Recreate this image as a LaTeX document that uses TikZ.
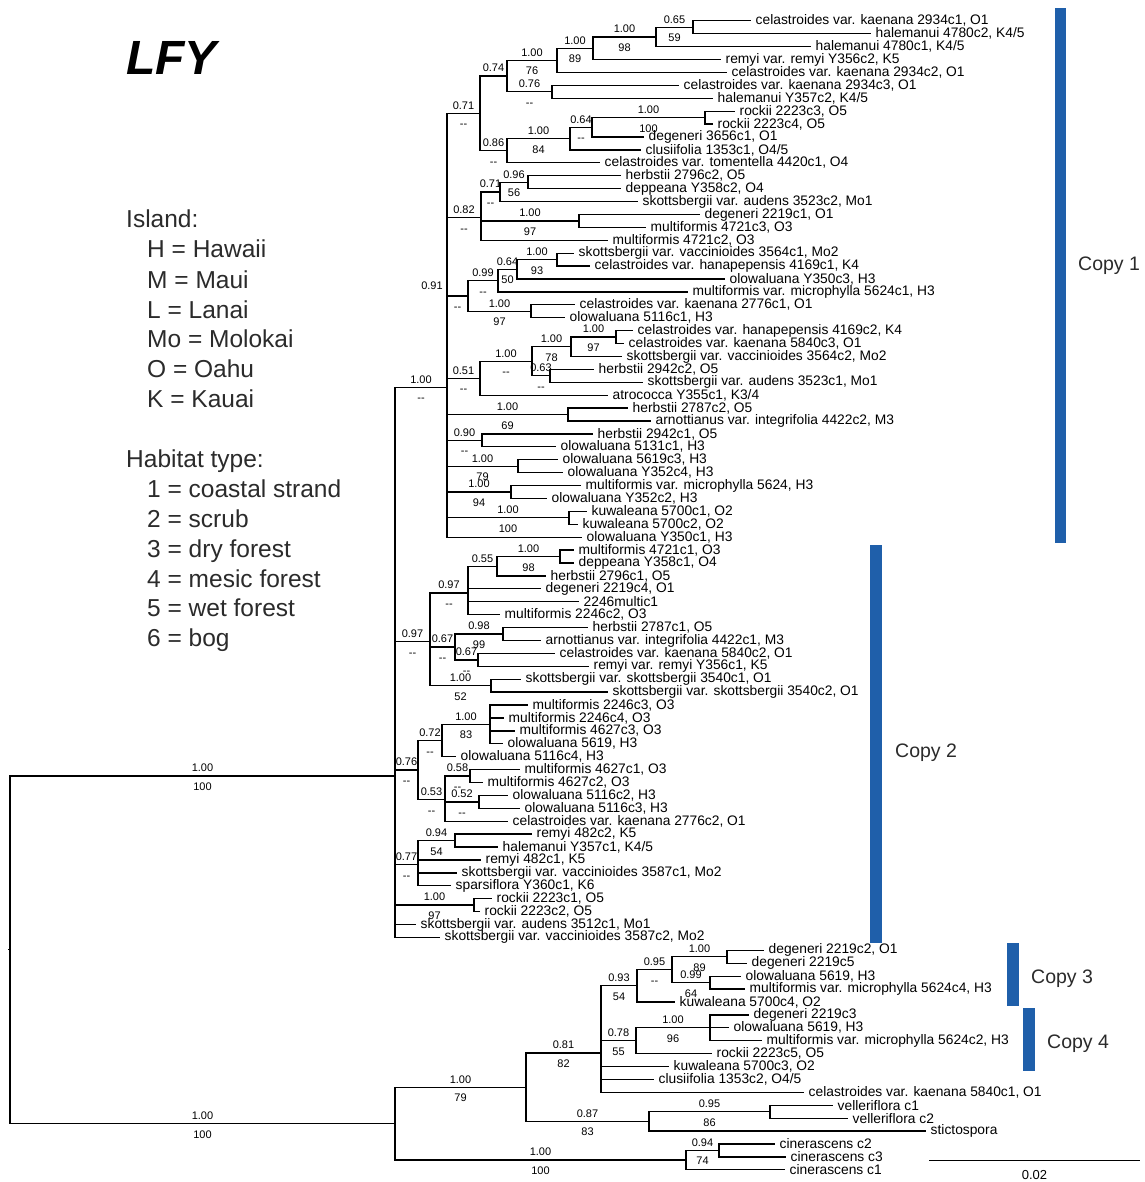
\documentclass[tikz,border=0pt]{standalone}
\usepackage{fontspec}
\setmainfont{Liberation Sans}
\usetikzlibrary{calc}
\definecolor{CopyBlue}{HTML}{1F5FAA}
\definecolor{LegendGrey}{HTML}{2B2B2B}
\newcommand{\nodash}{\mbox{-}\mbox{-}}
\newcommand{\clade}[3]{%
\gdef\ysum{0}\gdef\nkids{0}%
\foreach \kid/\pp/\bs in {#3}{\path let \p1=(\kid) in \pgfextra{\pgfmathsetmacro\tmp{\ysum+\y1}\xdef\ysum{\tmp}\pgfmathsetmacro\tmp{\nkids+1}\xdef\nkids{\tmp}};}%
\pgfmathsetmacro\ymid{\ysum/\nkids}%
\coordinate (#1) at (#2pt,\ymid pt);%
\foreach \kid/\pp/\bs in {#3}{\draw[branch] (#1) |- (\kid) node[pos=.75,above=2.5pt,support]{\pp} node[pos=.75,below=5pt,support]{\bs};}}
\begin{document}
\begin{tikzpicture}[x=1pt,y=-1pt,branch/.style={draw=black,line width=1.3pt},leaf/.style={anchor=west,inner xsep=4.5pt,inner ysep=0pt,font=\fontsize{13.8}{14}\selectfont},support/.style={inner sep=1pt,text height=7.9pt,text depth=0pt,font=\fontsize{11}{11}\selectfont},legend/.style={anchor=base west,inner sep=0pt,text=LegendGrey,font=\fontsize{24.5}{25}\selectfont},copylab/.style={anchor=base west,inner sep=0pt,text=LegendGrey,font=\fontsize{19.5}{20}\selectfont}]
\useasboundingbox (0,0) rectangle (1144,1182);
\fill[white] (0,0) rectangle (1144,1182);
\node[anchor=base west,inner sep=0pt,font=\fontsize{48}{48}\selectfont\bfseries\itshape] (title) at (126,75) {LFY};
\foreach \ty/\txt in {228/{Island:},467/{Habitat type:}}{\node[legend] (head\ty) at (126,\ty) {\txt};}
\foreach \ty/\txt in {258/{H = Hawaii},288/{M = Maui},318/{L = Lanai},347/{Mo = Molokai},377/{O = Oahu},407/{K = Kauai},497/{1 = coastal strand},527/{2 = scrub},557/{3 = dry forest},587/{4 = mesic forest},616/{5 = wet forest},646/{6 = bog}}{\node[legend] (key\ty) at (147,\ty) {\txt};}
\foreach \i/\s/\lab in {1/756/{celastroides var. kaenana 2934c1, O1},2/876/{halemanui 4780c2, K4/5},3/816/{halemanui 4780c1, K4/5},4/726/{remyi var. remyi Y356c2, K5},5/732/{celastroides var. kaenana 2934c2, O1},6/684/{celastroides var. kaenana 2934c3, O1},7/718/{halemanui Y357c2, K4/5},8/740/{rockii 2223c3, O5},9/718/{rockii 2223c4, O5},10/649/{degeneri 3656c1, O1},11/646/{clusiifolia 1353c1, O4/5},12/605/{celastroides var. tomentella 4420c1, O4},13/626/{herbstii 2796c2, O5},14/626/{deppeana Y358c2, O4},15/643/{skottsbergii var. audens 3523c2, Mo1},16/705/{degeneri 2219c1, O1},17/651/{multiformis 4721c3, O3},18/613/{multiformis 4721c2, O3},19/579/{skottsbergii var. vaccinioides 3564c1, Mo2},20/595/{celastroides var. hanapepensis 4169c1, K4},21/730/{olowaluana Y350c3, H3},22/693/{multiformis var. microphylla 5624c1, H3},23/580/{celastroides var. kaenana 2776c1, O1},24/570/{olowaluana 5116c1, H3},25/638/{celastroides var. hanapepensis 4169c2, K4},26/629/{celastroides var. kaenana 5840c3, O1},27/627/{skottsbergii var. vaccinioides 3564c2, Mo2},28/599/{herbstii 2942c2, O5},29/648/{skottsbergii var. audens 3523c1, Mo1},30/613/{atrococca Y355c1, K3/4},31/633/{herbstii 2787c2, O5},32/656/{arnottianus var. integrifolia 4422c2, M3},33/598/{herbstii 2942c1, O5},34/561/{olowaluana 5131c1, H3},35/563/{olowaluana 5619c3, H3},36/568/{olowaluana Y352c4, H3},37/586/{multiformis var. microphylla 5624, H3},38/552/{olowaluana Y352c2, H3},39/592/{kuwaleana 5700c1, O2},40/583/{kuwaleana 5700c2, O2},41/587/{olowaluana Y350c1, H3},42/579/{multiformis 4721c1, O3},43/579/{deppeana Y358c1, O4},44/551/{herbstii 2796c1, O5},45/546/{degeneri 2219c4, O1},46/584/{2246multic1},47/505/{multiformis 2246c2, O3},48/593/{herbstii 2787c1, O5},49/546/{arnottianus var. integrifolia 4422c1, M3},50/560/{celastroides var. kaenana 5840c2, O1},51/594/{remyi var. remyi Y356c1, K5},52/526/{skottsbergii var. skottsbergii 3540c1, O1},53/613/{skottsbergii var. skottsbergii 3540c2, O1},54/533/{multiformis 2246c3, O3},55/509/{multiformis 2246c4, O3},56/520/{multiformis 4627c3, O3},57/508/{olowaluana 5619, H3},58/461/{olowaluana 5116c4, H3},59/525/{multiformis 4627c1, O3},60/488/{multiformis 4627c2, O3},61/513/{olowaluana 5116c2, H3},62/525/{olowaluana 5116c3, H3},63/513/{celastroides var. kaenana 2776c2, O1},64/537/{remyi 482c2, K5},65/503/{halemanui Y357c1, K4/5},66/486/{remyi 482c1, K5},67/462/{skottsbergii var. vaccinioides 3587c1, Mo2},68/456/{sparsiflora Y360c1, K6},69/497/{rockii 2223c1, O5},70/485/{rockii 2223c2, O5},71/421/{skottsbergii var. audens 3512c1, Mo1},72/445/{skottsbergii var. vaccinioides 3587c2, Mo2},73/769/{degeneri 2219c2, O1},74/752/{degeneri 2219c5},75/746/{olowaluana 5619, H3},76/750/{multiformis var. microphylla 5624c4, H3},77/680/{kuwaleana 5700c4, O2},78/754/{degeneri 2219c3},79/734/{olowaluana 5619, H3},80/767/{multiformis var. microphylla 5624c2, H3},81/717/{rockii 2223c5, O5},82/674/{kuwaleana 5700c3, O2},83/659/{clusiifolia 1353c2, O4/5},84/809/{celastroides var. kaenana 5840c1, O1},85/838/{velleriflora c1},86/853/{velleriflora c2},87/931/{stictospora},88/780/{cinerascens c2},89/791/{cinerascens c3},90/790/{cinerascens c1}}{\node[leaf] (l\i) at ({\s-5},{20.8+(\i-1)*12.91}) {\lab};}
\clade{n065}{693}{l1//,l2//}
\clade{n100a}{656}{n065/0.65/59,l3//}
\clade{n100b}{593}{n100a/1.00/98,l4//}
\clade{n100c}{557}{n100b/1.00/89,l5//}
\clade{n076}{552}{l6//,l7//}
\clade{n074}{507}{n100c/1.00/76,n076/0.76/\nodash}
\clade{n100e}{705}{l8//,l9//}
\clade{n064}{592}{n100e/1.00/100,l10//}
\clade{n100d}{570}{n064/0.64/\nodash,l11//}
\clade{n086}{507}{n100d/1.00/84,l12//}
\clade{c071}{480}{n074/0.74/,n086/0.86/\nodash}
\clade{n096}{528}{l13//,l14//}
\clade{n071}{500}{n096/0.96/56,l15//}
\clade{n100f}{579}{l16//,l17//}
\clade{c082}{481}{n071/0.71/\nodash,n100f/1.00/97,l18//}
\clade{n100h}{557}{l19//,l20//}
\clade{n064b}{517}{n100h/1.00/93,l21//}
\clade{n099}{498}{n064b/0.64/50,l22//}
\clade{n100g}{531}{l23//,l24//}
\clade{c091}{468}{n099/0.99/\nodash,n100g/1.00/97}
\clade{n100k}{616}{l25//,l26//}
\clade{n100j}{571}{n100k/1.00/97,l27//}
\clade{n063}{550}{l28//,l29//}
\clade{n100i}{532}{n100j/1.00/78,n063/0.63/\nodash}
\clade{c051}{480}{n100i/1.00/\nodash,l30//}
\clade{n100l}{568}{l31//,l32//}
\clade{c090}{482}{l33//,l34//}
\clade{n100m}{518}{l35//,l36//}
\clade{n100n}{511}{l37//,l38//}
\clade{n100o}{569}{l39//,l40//}
\clade{copy1}{447}{c071/0.71/\nodash,c082/0.82/\nodash,c091//\nodash,c051/0.51/\nodash,n100l/1.00/69,c090/0.90/\nodash,n100m/1.00/79,n100n/1.00/94,n100o/1.00/100,l41//}
\node[support] (pp091) at (432,286) {0.91};
\clade{n100t}{560}{l42//,l43//}
\clade{n055}{497}{n100t/1.00/98,l44//}
\clade{c097b}{468}{n055/0.55/,l45//,l46//,l47//}
\clade{n098}{503}{l48//,l49//}
\clade{n067b}{478}{l50//,l51//}
\clade{c067}{455}{n098/0.98/99,n067b/0.67/\nodash}
\clade{n100s}{491}{l52//,l53//}
\clade{c097}{430}{c097b/0.97/\nodash,c067/0.67/\nodash,n100s/1.00/52}
\clade{n100u}{490}{l54//,l55//,l56//,l57//}
\clade{c072}{442}{n100u/1.00/83,l58//}
\clade{n058}{470}{l59//,l60//}
\clade{n052}{479}{l61//,l62//}
\clade{c053}{445}{n058/0.58/\nodash,n052/0.52/\nodash,l63//}
\clade{c076}{418}{c072/0.72/\nodash,c053/0.53/\nodash}
\clade{n094}{455}{l64//,l65//}
\clade{c077}{418}{n094/0.94/54,l66//,l67//,l68//}
\clade{n100r}{474}{l69//,l70//}
\clade{ingroup}{395}{copy1/1.00/\nodash,c097/0.97/\nodash,c076/0.76/\nodash,c077/0.77/\nodash,n100r/1.00/97,l71//,l72//}
\clade{n100v}{727}{l73//,l74//}
\clade{n099b}{710}{l75//,l76//}
\clade{c095}{672}{n100v/1.00/89,n099b/0.99/64}
\clade{c093}{637}{c095/0.95/\nodash,l77//}
\clade{n100w}{710}{l78//,l79//,l80//}
\clade{c078}{636}{n100w/1.00/96,l81//}
\clade{c081}{601}{c093/0.93/54,c078/0.78/55,l82//,l83//,l84//}
\clade{n095}{770}{l85//,l86//}
\clade{c087}{649}{n095/0.95/86,l87//}
\clade{c100}{526}{c081/0.81/82,c087/0.87/83}
\clade{n094b}{719}{l88//,l89//}
\clade{cine}{686}{n094b/0.94/74,l90//}
\clade{outgroup}{395}{c100/1.00/79,cine/1.00/100}
\clade{root}{10}{ingroup/1.00/100,outgroup/1.00/100}
\draw[branch] (root) -- ++(-2,0);
\fill[CopyBlue] (1055,8) rectangle (1066,543);
\fill[CopyBlue] (870,545) rectangle (882,943);
\fill[CopyBlue] (1007,943) rectangle (1019,1006);
\fill[CopyBlue] (1023,1008) rectangle (1035,1071);
\node[copylab] (copy1lab) at (1078,270) {Copy 1};
\node[copylab] (copy2lab) at (895,757) {Copy 2};
\node[copylab] (copy3lab) at (1031,983) {Copy 3};
\node[copylab] (copy4lab) at (1047,1048) {Copy 4};
\coordinate (bar0) at (929,1160);
\coordinate (bar1) at (1140,1160);
\draw[line width=1pt] (bar0) -- (bar1) node[midway,below=8.5pt,inner sep=1pt,font=\fontsize{13}{13}\selectfont] (barlab) {0.02};
\end{tikzpicture}
\end{document}
